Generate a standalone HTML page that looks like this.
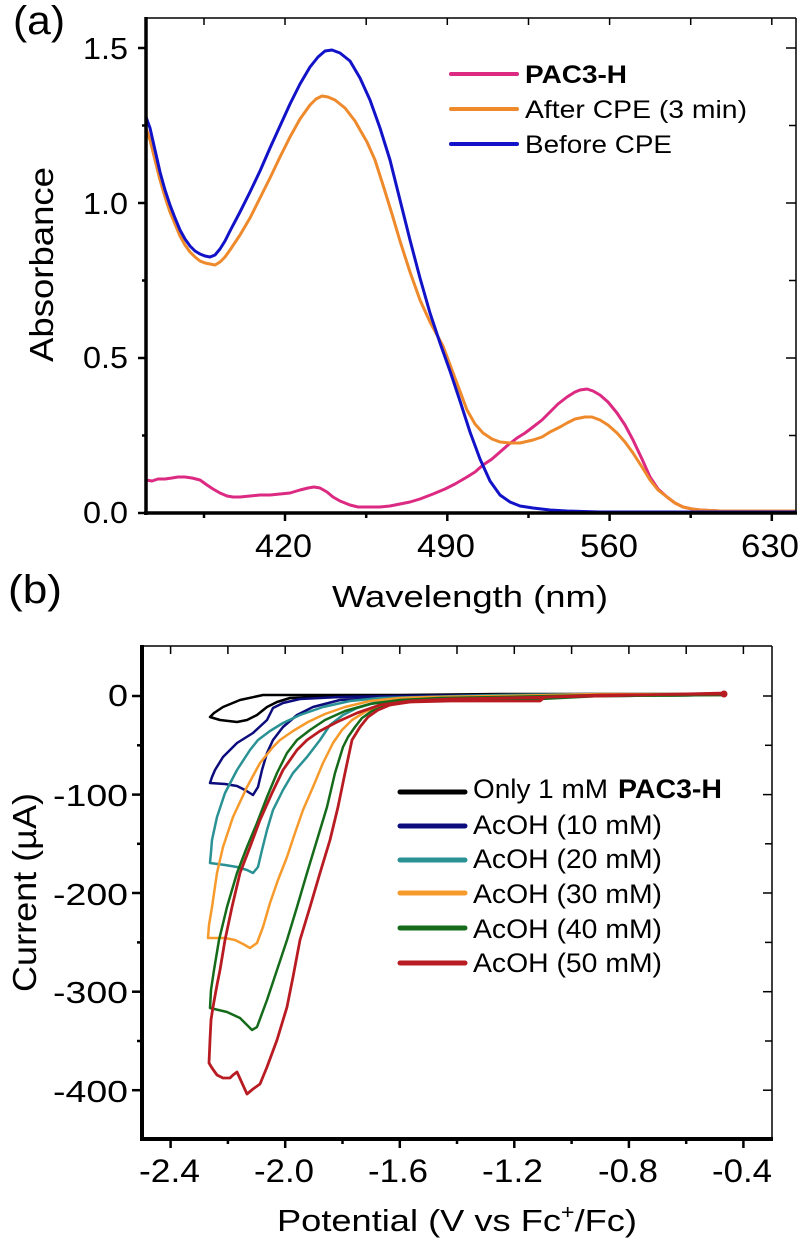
<!DOCTYPE html>
<html><head><meta charset="utf-8"><style>
html,body{margin:0;padding:0;background:#fff;}
svg{display:block;}
text{font-family:"Liberation Sans",Arial,sans-serif;fill:#000;}
</style></head><body>
<svg width="800" height="1242" viewBox="0 0 800 1242" xmlns="http://www.w3.org/2000/svg">
<rect width="800" height="1242" fill="#fff"/>

<!-- ============ PANEL (a) ============ -->
<text x="13" y="34" font-size="40" textLength="52" lengthAdjust="spacingAndGlyphs">(a)</text>

<!-- curves -->
<g fill="none" stroke-width="3" stroke-linejoin="round" stroke-linecap="round">
<polyline stroke="#dc2a82" points="146,480 152,481 158,479 165,479 172,478 178,477 185,477 192,478 200,480 207,485 213,489 220,493 227,496 233,497 240,497 250,496 260,495 270,495 280,494 290,493 300,490 308,488 314,487 320,488 327,492 333,497 340,501 350,505 358,507 367,507 380,507 390,506 400,504 410,502 420,499 433,494 445,489 455,484 467,477 475,472 483,465 492,459 500,452 508,445 517,438 525,433 533,427 542,420 550,412 558,404 567,397 575,392 580,390 587,389 593,391 600,395 608,402 617,413 625,425 633,440 642,459 650,477 658,489 667,497 675,503 683,507 692,509 700,510 720,511 795,511"/>
<polyline stroke="#ef8a2c" points="146,128 150,140 155,160 160,180 165,197 170,212 175,224 180,236 185,245 190,252 195,257 200,261 205,263 210,264 215,265 220,262 225,257 230,250 240,235 250,218 260,198 270,178 280,157 290,137 300,119 310,105 316,99 322,96 328,97 335,100 345,108 355,121 367,142 375,160 383,185 392,214 400,241 410,272 420,300 430,322 443,346 455,378 467,410 475,424 483,433 492,439 500,442 510,443 520,443 533,440 542,437 550,432 560,427 567,423 575,419 585,417 592,417 600,420 608,425 617,433 625,442 633,453 642,467 650,480 658,490 667,497 675,503 683,507 692,509 700,510 720,511 795,511"/>
<polyline stroke="#1212c8" points="146,117 150,128 155,150 160,172 165,190 170,205 175,218 180,230 185,239 190,246 195,251 200,254 205,256 210,257 215,255 220,249 225,241 230,231 240,212 250,192 260,171 270,148 280,126 290,104 300,84 310,67 318,57 325,51 332,50 340,53 350,61 360,78 370,100 380,128 390,160 400,200 410,240 420,278 430,313 440,343 450,371 460,401 470,432 480,459 490,481 500,495 510,502 520,506 533,508 550,510 567,511 600,512 795,512"/>
</g>

<!-- axes frame -->
<g stroke="#000" fill="none">
<line x1="146" y1="18" x2="796" y2="18" stroke-width="1.5"/>
<line x1="796" y1="18" x2="796" y2="513" stroke-width="1.5"/>
<line x1="146" y1="17" x2="146" y2="515" stroke-width="3.5"/>
<line x1="144" y1="513" x2="797" y2="513" stroke-width="3.5"/>
<!-- bottom ticks -->
<g stroke-width="2.5">
<line x1="285" y1="513" x2="285" y2="521"/><line x1="447.3" y1="513" x2="447.3" y2="521"/><line x1="609.6" y1="513" x2="609.6" y2="521"/><line x1="771.8" y1="513" x2="771.8" y2="521"/>
<line x1="204" y1="513" x2="204" y2="518"/><line x1="366.2" y1="513" x2="366.2" y2="518"/><line x1="528.5" y1="513" x2="528.5" y2="518"/><line x1="690.7" y1="513" x2="690.7" y2="518"/>
<!-- left ticks -->
<line x1="138" y1="48" x2="146" y2="48"/><line x1="138" y1="203" x2="146" y2="203"/><line x1="138" y1="358" x2="146" y2="358"/><line x1="138" y1="513" x2="146" y2="513"/>
<line x1="142" y1="125.5" x2="146" y2="125.5"/><line x1="142" y1="280.5" x2="146" y2="280.5"/><line x1="142" y1="435.5" x2="146" y2="435.5"/>
</g>
<g stroke-width="1.5">
<!-- top ticks inward -->
<line x1="204" y1="18" x2="204" y2="25"/><line x1="285" y1="18" x2="285" y2="25"/><line x1="366.2" y1="18" x2="366.2" y2="25"/><line x1="447.3" y1="18" x2="447.3" y2="25"/><line x1="528.5" y1="18" x2="528.5" y2="25"/><line x1="609.6" y1="18" x2="609.6" y2="25"/><line x1="690.7" y1="18" x2="690.7" y2="25"/><line x1="771.8" y1="18" x2="771.8" y2="25"/>
<!-- right ticks inward -->
<line x1="786" y1="48" x2="796" y2="48"/><line x1="786" y1="203" x2="796" y2="203"/><line x1="786" y1="358" x2="796" y2="358"/>
<line x1="789" y1="125.5" x2="796" y2="125.5"/><line x1="789" y1="280.5" x2="796" y2="280.5"/><line x1="789" y1="435.5" x2="796" y2="435.5"/>
</g>
</g>

<!-- tick labels -->
<g font-size="31">
<text x="83" y="59" textLength="45" lengthAdjust="spacingAndGlyphs">1.5</text>
<text x="83" y="214" textLength="45" lengthAdjust="spacingAndGlyphs">1.0</text>
<text x="83" y="368" textLength="45" lengthAdjust="spacingAndGlyphs">0.5</text>
<text x="83" y="523" textLength="45" lengthAdjust="spacingAndGlyphs">0.0</text>
</g>
<g font-size="32">
<text x="255" y="557" textLength="57" lengthAdjust="spacingAndGlyphs">420</text>
<text x="417" y="557" textLength="58" lengthAdjust="spacingAndGlyphs">490</text>
<text x="580" y="557" textLength="58" lengthAdjust="spacingAndGlyphs">560</text>
<text x="741" y="557" textLength="58" lengthAdjust="spacingAndGlyphs">630</text>
</g>
<text x="332" y="607" font-size="31" textLength="276" lengthAdjust="spacingAndGlyphs">Wavelength (nm)</text>
<text transform="translate(53,362) rotate(-90)" x="0" y="0" font-size="33" textLength="195" lengthAdjust="spacingAndGlyphs">Absorbance</text>

<!-- legend (a) -->
<g stroke-width="4" stroke-linecap="round">
<line x1="451" y1="74" x2="517" y2="74" stroke="#dc2a82"/>
<line x1="451" y1="109" x2="517" y2="109" stroke="#ef8a2c"/>
<line x1="451" y1="144" x2="517" y2="144" stroke="#1212c8"/>
</g>
<g font-size="25">
<text x="525" y="83" font-weight="bold" textLength="102" lengthAdjust="spacingAndGlyphs">PAC3-H</text>
<text x="525" y="118" textLength="222" lengthAdjust="spacingAndGlyphs">After CPE (3 min)</text>
<text x="525" y="153" textLength="147" lengthAdjust="spacingAndGlyphs">Before CPE</text>
</g>

<!-- ============ PANEL (b) ============ -->
<text x="8" y="603" font-size="40" textLength="54" lengthAdjust="spacingAndGlyphs">(b)</text>

<g fill="none" stroke-width="2.5" stroke-linejoin="round" stroke-linecap="round">
<path stroke="#000" d="M725,694 L600,694 L500,694 L400,695 L300,695 L263,695 L240,700 L223,707 L214,713 L210,717 L220,720 L237,722 L247,720 L257,715 L267,707 L277,702 L290,698 L320,697 L400,697 L500,697 L600,696 L725,695 Z"/>
<path stroke="#0c0c7c" d="M725,695 L600,696 L500,697 L420,698 L380,699 L363,699 L340,700 L313,707 L297,715 L283,727 L273,740 L267,753 L262,770 L258,787 L253,795 L245,790 L237,786 L225,784 L210,783 L212,777 L215,770 L223,757 L237,743 L253,733 L267,720 L273,708 L283,703 L300,699 L340,697 L400,696 L500,695 L600,694 L725,694 Z"/>
<path stroke="#2a9294" d="M725,695 L600,696 L500,697 L420,699 L400,699 L377,702 L357,708 L343,715 L330,725 L320,740 L307,757 L293,773 L283,790 L273,810 L267,830 L262,850 L258,867 L253,873 L247,870 L237,867 L225,865 L210,863 L211,852 L212,840 L217,817 L225,793 L237,770 L250,750 L258,740 L270,731 L283,723 L300,715 L323,707 L350,701 L380,698 L420,697 L500,695 L600,694 L725,694 Z"/>
<path stroke="#f79a2c" d="M725,695 L600,696 L500,698 L420,700 L400,702 L380,706 L365,712 L352,720 L342,730 L333,743 L323,763 L313,787 L303,810 L295,833 L287,857 L278,880 L270,903 L263,927 L257,943 L250,948 L243,944 L235,940 L225,938 L208,938 L209,925 L212,907 L217,873 L223,847 L233,817 L247,787 L260,763 L273,747 L280,740 L293,731 L308,722 L325,714 L345,707 L370,701 L400,698 L430,697 L500,696 L600,694 L725,694 Z"/>
<path stroke="#156b1a" d="M725,695 L600,696 L540,699 L500,700 L430,700 L400,703 L385,706 L372,711 L362,718 L355,727 L348,737 L343,747 L335,773 L327,807 L317,840 L307,873 L297,907 L287,940 L277,970 L267,1000 L257,1027 L252,1030 L246,1024 L240,1018 L227,1012 L210,1008 L211,990 L214,970 L219,940 L227,907 L237,873 L247,847 L257,823 L267,797 L277,773 L287,753 L297,740 L310,730 L325,720 L345,711 L370,704 L400,700 L440,698 L500,697 L600,695 L725,694 Z"/>
<path stroke="#b81c22" stroke-width="2.8" d="M725,694 L600,695 L545,697 L540,701 L500,701 L450,701 L410,702 L390,705 L378,710 L368,717 L360,727 L352,740 L345,773 L338,807 L330,840 L320,873 L310,907 L300,940 L293,977 L287,1007 L277,1040 L267,1067 L260,1084 L253,1089 L247,1094 L242,1083 L237,1072 L233,1075 L230,1078 L223,1078 L217,1075 L212,1068 L209,1063 L210,1040 L211,1020 L213,1007 L217,985 L220,970 L225,940 L232,907 L240,873 L250,847 L260,820 L272,793 L283,770 L297,750 L307,740 L320,731 L337,722 L357,713 L380,705 L410,701 L450,699 L500,698 L600,696 L725,693 Z"/>
</g>
<circle cx="724" cy="694" r="3.5" fill="#b81c22"/>

<!-- axes frame (b) -->
<g stroke="#000" fill="none">
<line x1="142" y1="646" x2="772" y2="646" stroke-width="1.5"/>
<line x1="772" y1="646" x2="772" y2="1139" stroke-width="1.5"/>
<line x1="142" y1="645" x2="142" y2="1141" stroke-width="4"/>
<line x1="140" y1="1139" x2="773" y2="1139" stroke-width="4"/>
<g stroke-width="2.5">
<!-- left ticks -->
<line x1="132" y1="696" x2="142" y2="696"/><line x1="132" y1="794.6" x2="142" y2="794.6"/><line x1="132" y1="893" x2="142" y2="893"/><line x1="132" y1="991.7" x2="142" y2="991.7"/><line x1="132" y1="1090.2" x2="142" y2="1090.2"/>
<line x1="137" y1="745.3" x2="142" y2="745.3"/><line x1="137" y1="843.8" x2="142" y2="843.8"/><line x1="137" y1="942.4" x2="142" y2="942.4"/><line x1="137" y1="1041" x2="142" y2="1041"/>
<!-- bottom ticks -->
<line x1="170.6" y1="1139" x2="170.6" y2="1148"/><line x1="285.2" y1="1139" x2="285.2" y2="1148"/><line x1="399.8" y1="1139" x2="399.8" y2="1148"/><line x1="514.3" y1="1139" x2="514.3" y2="1148"/><line x1="628.9" y1="1139" x2="628.9" y2="1148"/><line x1="743.4" y1="1139" x2="743.4" y2="1148"/>
<line x1="227.9" y1="1139" x2="227.9" y2="1144"/><line x1="342.5" y1="1139" x2="342.5" y2="1144"/><line x1="457" y1="1139" x2="457" y2="1144"/><line x1="571.6" y1="1139" x2="571.6" y2="1144"/><line x1="686.2" y1="1139" x2="686.2" y2="1144"/>
</g>
<g stroke-width="1.5">
<line x1="170.6" y1="646" x2="170.6" y2="654"/><line x1="227.9" y1="646" x2="227.9" y2="654"/><line x1="285.2" y1="646" x2="285.2" y2="654"/><line x1="342.5" y1="646" x2="342.5" y2="654"/><line x1="399.8" y1="646" x2="399.8" y2="654"/><line x1="457" y1="646" x2="457" y2="654"/><line x1="514.3" y1="646" x2="514.3" y2="654"/><line x1="571.6" y1="646" x2="571.6" y2="654"/><line x1="628.9" y1="646" x2="628.9" y2="654"/><line x1="686.2" y1="646" x2="686.2" y2="654"/><line x1="743.4" y1="646" x2="743.4" y2="654"/>
<line x1="763" y1="696" x2="772" y2="696"/><line x1="763" y1="794.6" x2="772" y2="794.6"/><line x1="763" y1="893" x2="772" y2="893"/><line x1="763" y1="991.7" x2="772" y2="991.7"/><line x1="763" y1="1090.2" x2="772" y2="1090.2"/>
<line x1="765" y1="745.3" x2="772" y2="745.3"/><line x1="765" y1="843.8" x2="772" y2="843.8"/><line x1="765" y1="942.4" x2="772" y2="942.4"/><line x1="765" y1="1041" x2="772" y2="1041"/>
</g>
</g>

<!-- tick labels (b) -->
<g font-size="31">
<text x="108" y="706" textLength="20" lengthAdjust="spacingAndGlyphs">0</text>
<text x="53" y="806" textLength="75" lengthAdjust="spacingAndGlyphs">-100</text>
<text x="53" y="905" textLength="75" lengthAdjust="spacingAndGlyphs">-200</text>
<text x="53" y="1003" textLength="75" lengthAdjust="spacingAndGlyphs">-300</text>
<text x="53" y="1102" textLength="75" lengthAdjust="spacingAndGlyphs">-400</text>
</g>
<g font-size="32">
<text x="139" y="1182" textLength="61" lengthAdjust="spacingAndGlyphs">-2.4</text>
<text x="254" y="1182" textLength="60" lengthAdjust="spacingAndGlyphs">-2.0</text>
<text x="368" y="1182" textLength="60" lengthAdjust="spacingAndGlyphs">-1.6</text>
<text x="482" y="1182" textLength="61" lengthAdjust="spacingAndGlyphs">-1.2</text>
<text x="598" y="1182" textLength="60" lengthAdjust="spacingAndGlyphs">-0.8</text>
<text x="712" y="1182" textLength="60" lengthAdjust="spacingAndGlyphs">-0.4</text>
</g>
<text x="277" y="1231" font-size="31" textLength="360" lengthAdjust="spacingAndGlyphs">Potential (V vs Fc<tspan font-size="20" dy="-12">+</tspan><tspan dy="12">/Fc)</tspan></text>
<text transform="translate(36,992) rotate(-90)" x="0" y="0" font-size="33" textLength="199" lengthAdjust="spacingAndGlyphs">Current (µA)</text>

<!-- legend (b) -->
<g stroke-width="5" stroke-linecap="round">
<line x1="400" y1="792" x2="465" y2="792" stroke="#000"/>
<line x1="400" y1="826" x2="465" y2="826" stroke="#0c0c7c"/>
<line x1="400" y1="860" x2="465" y2="860" stroke="#2a9294"/>
<line x1="400" y1="893" x2="465" y2="893" stroke="#f79a2c"/>
<line x1="400" y1="928" x2="465" y2="928" stroke="#156b1a"/>
<line x1="400" y1="963" x2="465" y2="963" stroke="#b81c22"/>
</g>
<g font-size="27">
<text x="473" y="798" textLength="135" lengthAdjust="spacingAndGlyphs">Only 1 mM</text>
<text x="618" y="798" font-weight="bold" textLength="104" lengthAdjust="spacingAndGlyphs">PAC3-H</text>
<text x="473" y="834" textLength="189" lengthAdjust="spacingAndGlyphs">AcOH (10 mM)</text>
<text x="473" y="868" textLength="189" lengthAdjust="spacingAndGlyphs">AcOH (20 mM)</text>
<text x="473" y="903" textLength="189" lengthAdjust="spacingAndGlyphs">AcOH (30 mM)</text>
<text x="473" y="938" textLength="189" lengthAdjust="spacingAndGlyphs">AcOH (40 mM)</text>
<text x="473" y="972" textLength="189" lengthAdjust="spacingAndGlyphs">AcOH (50 mM)</text>
</g>
</svg>
</body></html>
